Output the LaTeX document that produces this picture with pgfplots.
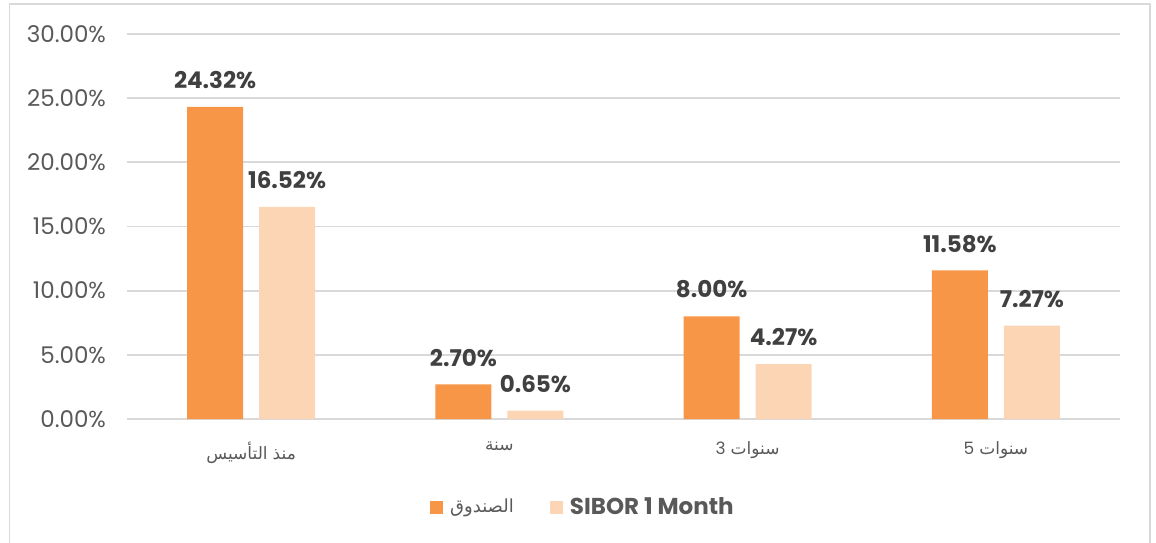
\documentclass[border=0pt]{standalone}
\usepackage{pgfplots}
\pgfplotsset{compat=1.18}
\usepackage{fontspec}
\setmainfont{Poppins}
\newfontfamily\arabicfont[Script=Arabic]{DejaVu Sans}
\definecolor{fundc}{HTML}{F79646}
\definecolor{siborc}{HTML}{FCD5B5}
\definecolor{gridc}{HTML}{D9D9D9}
\definecolor{tickc}{HTML}{595959}
\definecolor{labc}{HTML}{404040}
\newcommand{\ar}[1]{\hbox{\arabicfont #1}}
\begin{document}
\begin{tikzpicture}
\useasboundingbox (0,0) rectangle (578pt,271pt);
\begin{scope}
\clip (0,0) rectangle (578pt,271pt);
\draw[gridc, line width=0.9pt] (4.75pt,-10pt) rectangle (575pt,269pt);
\end{scope}
\begin{axis}[
  at={(63.5pt,61.5pt)}, anchor=south west,
  scale only axis, width=496.5pt, height=192.5pt,
  ybar=8pt, bar width=28pt,
  xmin=-0.5, xmax=3.5, ymin=0, ymax=30,
  xtick={0,1,2,3},
  xticklabels={
    {\ar{التأسيس}\hskip2.5pt\ar{منذ}},
    {\ar{سنة}},
    {\hbox{3}\hskip2.5pt\ar{سنوات}},
    {\hbox{5}\hskip2.5pt\ar{سنوات}}},
  ytick={0,5,10,15,20,25,30},
  yticklabel={\pgfmathprintnumber[fixed,zerofill,precision=2]{\tick}\%},
  /pgf/number format/assume math mode=true,
  ymajorgrids, grid style={gridc, line width=0.9pt},
  axis x line*=bottom, axis y line*=left,
  x axis line style={draw=gridc, line width=0.9pt, -},
  y axis line style={draw=none},
  major tick length=0pt,
  tick style={draw=none},
  yticklabel style={font=\fontsize{11.5}{13}\selectfont, text=tickc, xshift=-7pt},
  xticklabel style={font=\fontsize{8.5}{10}\selectfont, text=tickc, yshift=-8pt},
  nodes near coords={\pgfmathprintnumber[fixed,zerofill,precision=2]{\pgfplotspointmeta}\%},
  nodes near coords style={font=\bfseries\fontsize{11.5}{13}\selectfont, text=labc, anchor=south, yshift=5.5pt},
  legend style={at={(0.46,-0.229)}, anchor=center, draw=none, fill=none,
    legend columns=2, font=\fontsize{11.5}{13}\selectfont, text=tickc,
    /tikz/every even column/.append style={column sep=16pt},
    /tikz/every odd column/.append style={column sep=1.5pt}},
  legend image code/.code={\fill[#1] (0pt,-3.3pt) rectangle (6.6pt,3.3pt);},
]
\addplot[fill=fundc, draw=none] coordinates {(0,24.32) (1,2.70) (2,8.00) (3,11.58)};
\addlegendentry{\fontsize{9}{11}\selectfont\ar{الصندوق}}
\addplot[fill=siborc, draw=none] coordinates {(0,16.52) (1,0.65) (2,4.27) (3,7.27)};
\addlegendentry{\bfseries SIBOR 1 Month}
\end{axis}
\end{tikzpicture}
\end{document}
